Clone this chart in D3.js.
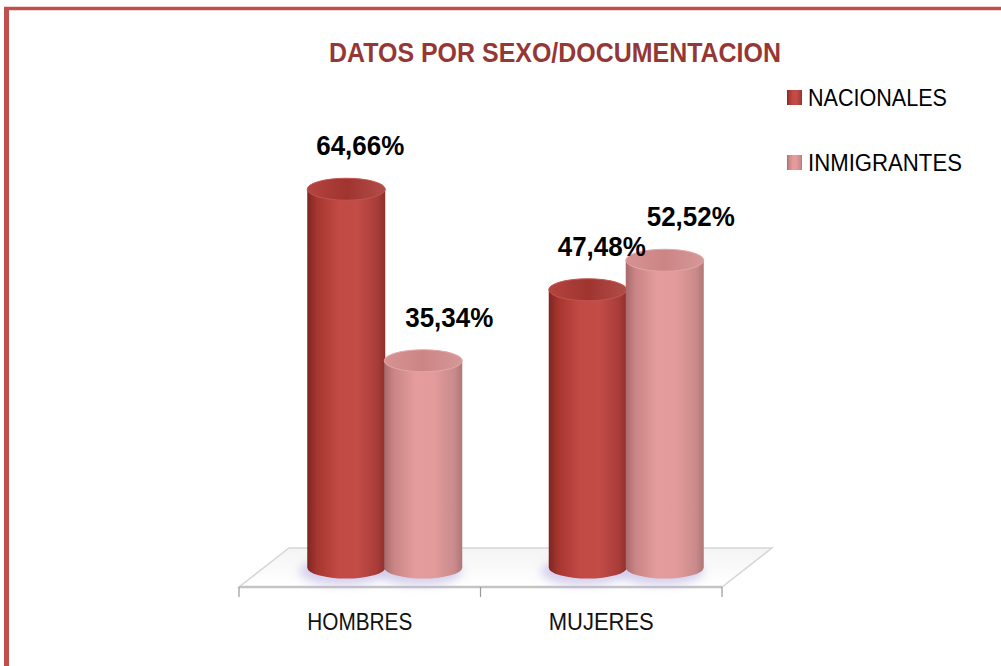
<!DOCTYPE html>
<html lang="es">
<head>
<meta charset="UTF-8">
<title>Datos por sexo/documentacion</title>
<script src="https://d3js.org/d3.v7.min.js"></script>
<style>
  body { margin: 0; background: #fff; }
  text { font-family: "Liberation Sans", Arial, sans-serif; }
</style>
</head>
<body>
<script>
const categories = ["HOMBRES", "MUJERES"];
const series = ["NACIONALES", "INMIGRANTES"];
const nacionales = [64.66, 47.48];
const inmigrantes = [35.34, 52.52];
const labels = [["64,66%", "47,48%"], ["35,34%", "52,52%"]];

const W = 1001, H = 666;
const floorLeft = 239, floorRight = 722, floorFront = 587;
const depthX = 50, depthY = 39;
const baseY = floorFront - depthY / 2;
const rx = 39, ry = 11;

const svg = d3.select("body").append("svg").attr("width", W).attr("height", H);
const defs = svg.append("defs");

function grad(id, stops, vertical) {
  const g = defs.append("linearGradient").attr("id", id)
    .attr("x1", "0%").attr("x2", vertical ? "0%" : "100%").attr("y1", "0%").attr("y2", vertical ? "100%" : "0%");
  stops.forEach(s => g.append("stop").attr("offset", s[0]).attr("stop-color", s[1]));
}
grad("body0", [["0%", "#7e2522"], ["12%", "#a5362f"], ["40%", "#c34a44"], ["65%", "#c24c47"], ["90%", "#a83c38"], ["100%", "#8e2f2c"]]);
grad("body1", [["0%", "#a86a6b"], ["12%", "#c98485"], ["40%", "#e59c9c"], ["65%", "#e29a9a"], ["90%", "#c98a8b"], ["100%", "#b07677"]]);
grad("top0", [["0%", "#b4443f"], ["50%", "#a0342f"], ["100%", "#b04d48"]]);
grad("top1", [["0%", "#d69292"], ["50%", "#cc8585"], ["100%", "#d69898"]]);
grad("floorFill", [["0%", "#f4f4f4"], ["100%", "#ffffff"]], true);
defs.append("filter").attr("id", "blur").attr("x", "-50%").attr("y", "-50%").attr("width", "200%").attr("height", "200%")
  .append("feGaussianBlur").attr("stdDeviation", 5);

// border
svg.append("line").attr("x1", 6.5).attr("x2", 6.5).attr("y1", 7).attr("y2", H).attr("stroke", "#c0504d").attr("stroke-width", 5);
svg.append("line").attr("x1", 4).attr("x2", W).attr("y1", 8.5).attr("y2", 8.5).attr("stroke", "#c0504d").attr("stroke-width", 3.5);

// title
svg.append("text").attr("x", 555).attr("y", 62).attr("text-anchor", "middle")
  .attr("font-size", 27).attr("font-weight", "bold").attr("fill", "#953735")
  .attr("textLength", 452).attr("lengthAdjust", "spacingAndGlyphs")
  .text("DATOS POR SEXO/DOCUMENTACION");

// scales
const x0 = d3.scaleBand().domain(categories).range([floorLeft, floorRight]).padding(0);
const x1 = d3.scaleBand().domain(series).range([-77, 77]);
const y = d3.scaleLinear().domain([0, 100]).range([baseY, baseY - 585]);

// floor
const floor = [[floorLeft, floorFront], [floorLeft + depthX, floorFront - depthY], [floorRight + depthX, floorFront - depthY], [floorRight, floorFront]];
svg.append("path").attr("d", d3.line()(floor) + "Z").attr("fill", "url(#floorFill)").attr("stroke", "#d6d6d6").attr("stroke-width", 1.5);
svg.append("line").attr("x1", floorLeft).attr("x2", floorRight).attr("y1", floorFront).attr("y2", floorFront).attr("stroke", "#c4c4c4").attr("stroke-width", 2.5);
const ticks = categories.map(c => x0(c)).concat([floorRight]);
svg.selectAll(".tick").data(ticks).join("line")
  .attr("x1", d => d).attr("x2", d => d).attr("y1", floorFront).attr("y2", floorFront + 10)
  .attr("stroke", "#999").attr("stroke-width", 1.2);

svg.selectAll(".cat").data(categories).join("text")
  .attr("x", d => x0(d) + x0.bandwidth() / 2).attr("y", 630).attr("text-anchor", "middle")
  .attr("font-size", 24).attr("fill", "#111")
  .attr("textLength", d => d.length * 15).attr("lengthAdjust", "spacingAndGlyphs")
  .text(d => d);

// cylinders
const values = [nacionales, inmigrantes];
const bars = [];
categories.forEach((c, ci) => {
  series.forEach((s, si) => {
    bars.push({ c, s, si, v: values[si][ci], label: labels[si][ci], cx: x0(c) + x0.bandwidth() / 2 + depthX / 2 + x1(s) + x1.bandwidth() / 2 });
  });
});

// soft shadow at base
svg.selectAll(".shadow").data(bars).join("ellipse")
  .attr("cx", d => d.cx - 4).attr("cy", baseY + 4).attr("rx", rx + 4).attr("ry", ry + 3)
  .attr("fill", "#b8aee0").attr("opacity", 0.55).attr("filter", "url(#blur)");

const g = svg.selectAll(".bar").data(bars).join("g");
g.append("path")
  .attr("d", d => {
    const top = y(d.v);
    return `M${d.cx - rx},${top} L${d.cx - rx},${baseY} A${rx},${ry} 0 0 0 ${d.cx + rx},${baseY} L${d.cx + rx},${top} Z`;
  })
  .attr("fill", d => `url(#body${d.si})`);
g.append("ellipse")
  .attr("cx", d => d.cx).attr("cy", d => y(d.v)).attr("rx", rx).attr("ry", ry)
  .attr("fill", d => `url(#top${d.si})`)
  .attr("stroke", d => d.si ? "#e3a6a6" : "#c2544f").attr("stroke-width", 1);

// data labels
svg.selectAll(".lbl").data(bars).join("text")
  .attr("x", d => d.cx + (d.si ? 26 : 14)).attr("y", d => y(d.v) - 34).attr("text-anchor", "middle")
  .attr("font-size", 28).attr("font-weight", "bold").attr("fill", "#000")
  .attr("textLength", 88).attr("lengthAdjust", "spacingAndGlyphs")
  .text(d => d.label);

// legend
const lg = svg.selectAll(".leg").data(series).join("g")
  .attr("transform", (d, i) => `translate(787,${90 + i * 65})`);
lg.append("rect").attr("width", 15).attr("height", 15).attr("fill", (d, i) => `url(#body${i})`);
lg.append("text").attr("x", 21).attr("y", 16).attr("font-size", 23).attr("fill", "#000")
  .attr("textLength", (d, i) => i ? 154 : 139).attr("lengthAdjust", "spacingAndGlyphs")
  .text(d => d);
</script>
</body>
</html>
